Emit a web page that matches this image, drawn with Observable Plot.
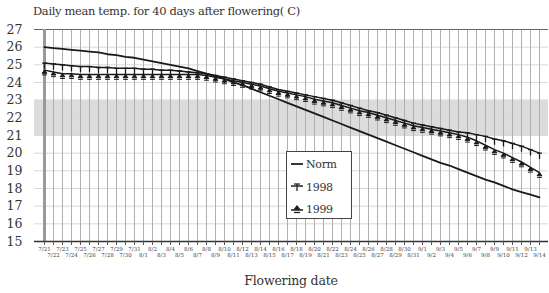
<!DOCTYPE html>
<html>
<head>
<meta charset="utf-8">
<script src="https://cdn.jsdelivr.net/npm/d3@7"></script>
<script src="https://cdn.jsdelivr.net/npm/@observablehq/plot@0.6"></script>
<style>
  html, body { margin: 0; padding: 0; background: #fff; }
  #wrap { position: relative; width: 549px; height: 293px; overflow: hidden; font-family: "DejaVu Serif", serif; color: #333; }
  #title { position: absolute; left: 33px; top: 4px; font-size: 11.5px; white-space: nowrap; letter-spacing: -0.35px; }
  #xlabel { position: absolute; left: 0; width: 582px; top: 273px; text-align: center; font-size: 12.5px; letter-spacing: -0.2px; }
  #legend { position: absolute; left: 286px; top: 151px; width: 64px; height: 66px; border: 1px solid #444; background: #fff; font-size: 11px; letter-spacing: -0.3px; }
  #legend .row { position: absolute; left: 3px; height: 14px; display: flex; align-items: center; }
  #legend svg { margin-right: 2px; }
</style>
</head>
<body>
<div id="wrap">
  <div id="chart"></div>
  <div id="title">Daily mean temp. for 40 days after flowering( C)</div>
  <div id="xlabel">Flowering date</div>
  <div id="legend">
    <div class="row" style="top:5px"><svg width="14" height="10"><line x1="1" y1="5" x2="13" y2="5" stroke="#222" stroke-width="1.8"/></svg><span>Norm</span></div>
    <div class="row" style="top:28px"><svg width="14" height="10"><line x1="1" y1="4" x2="13" y2="4" stroke="#222" stroke-width="1.5"/><line x1="4" y1="2" x2="10" y2="2" stroke="#222" stroke-width="1.3"/><line x1="7" y1="2" x2="7" y2="9" stroke="#222" stroke-width="1.3"/></svg><span>1998</span></div>
    <div class="row" style="top:50px"><svg width="14" height="10"><line x1="1" y1="6" x2="13" y2="6" stroke="#222" stroke-width="1.5"/><path d="M7,1 L11,6 L3,6 Z" fill="#222"/><line x1="4" y1="8.5" x2="10" y2="8.5" stroke="#222" stroke-width="1.3"/></svg><span>1999</span></div>
  </div>
</div>
<script>
// Flowering dates (x categories)
const dates = [
  "7/21","7/22","7/23","7/24","7/25","7/26","7/27","7/28","7/29","7/30","7/31",
  "8/1","8/2","8/3","8/4","8/5","8/6","8/7","8/8","8/9","8/10","8/11","8/12","8/13","8/14","8/15",
  "8/16","8/17","8/18","8/19","8/20","8/21","8/22","8/23","8/24","8/25","8/26","8/27","8/28","8/29","8/30","8/31",
  "9/1","9/2","9/3","9/4","9/5","9/6","9/7","9/8","9/9","9/10","9/11","9/12","9/13","9/14"
];

// Daily mean temperature for 40 days after flowering (°C)
const norm = [
  26.0, 25.95, 25.9, 25.85, 25.8, 25.75, 25.7, 25.6, 25.55, 25.45,
  25.4, 25.3, 25.2, 25.1, 25.0, 24.9, 24.8, 24.65, 24.5, 24.35,
  24.2, 24.0, 23.85, 23.65, 23.45, 23.25, 23.05, 22.85, 22.65, 22.45,
  22.25, 22.05, 21.85, 21.65, 21.45, 21.25, 21.05, 20.85, 20.65, 20.45,
  20.25, 20.05, 19.85, 19.65, 19.45, 19.3, 19.1, 18.9, 18.7, 18.5,
  18.35, 18.15, 17.95, 17.8, 17.65, 17.5
];
const y1998 = [
  25.1, 25.05, 25.0, 24.95, 24.9, 24.9, 24.85, 24.85, 24.8, 24.8,
  24.8, 24.75, 24.75, 24.7, 24.7, 24.65, 24.6, 24.55, 24.5, 24.4,
  24.3, 24.2, 24.1, 24.0, 23.9, 23.75, 23.6, 23.5, 23.4, 23.3,
  23.2, 23.1, 23.0, 22.85, 22.7, 22.55, 22.4, 22.3, 22.15, 22.0,
  21.85, 21.7, 21.6, 21.5, 21.4, 21.3, 21.2, 21.15, 21.05, 20.95,
  20.8, 20.7, 20.55, 20.4, 20.2, 20.0
];
const y1999 = [
  24.7, 24.6, 24.5, 24.5, 24.45, 24.45, 24.45, 24.45, 24.45, 24.45,
  24.45, 24.45, 24.45, 24.45, 24.45, 24.45, 24.45, 24.45, 24.4, 24.3,
  24.2, 24.1, 24.0, 23.9, 23.8, 23.65, 23.5, 23.4, 23.3, 23.2,
  23.05, 22.95, 22.85, 22.7, 22.55, 22.4, 22.3, 22.15, 22.0, 21.85,
  21.7, 21.55, 21.45, 21.35, 21.25, 21.15, 21.05, 20.9, 20.7, 20.45,
  20.2, 20.0, 19.75, 19.5, 19.2, 18.9
];

const yTicks = [15, 16, 17, 18, 19, 20, 21, 22, 23, 24, 25, 26, 27];
const bandRange = [21, 23];

const rows = dates.map((d, i) => ({date: d, norm: norm[i], y1998: y1998[i], y1999: y1999[i]}));
const evenDates = dates.filter((d, i) => i % 2 === 0);
const oddDates = dates.filter((d, i) => i % 2 === 1);

// custom marker shapes
const tSym = {draw(ctx, size) { const r = Math.sqrt(size) / 2; ctx.moveTo(-r, 0); ctx.lineTo(r, 0); ctx.moveTo(0, 0); ctx.lineTo(0, r * 2.4); }};
const triSym = {draw(ctx, size) { const r = Math.sqrt(size) / 2; ctx.moveTo(0, 0); ctx.lineTo(r, r * 1.3); ctx.lineTo(-r, r * 1.3); ctx.closePath(); ctx.moveTo(-r, r * 2); ctx.lineTo(r, r * 2); }};

const ink = "#1a1a1a";
const serif = "'DejaVu Serif', serif";

const chart = Plot.plot({
  width: 549,
  height: 293,
  marginTop: 29,
  marginBottom: 52,
  marginLeft: 34,
  marginRight: 1,
  style: {fontFamily: serif, color: "#333", background: "#fff"},
  x: {type: "point", domain: dates, padding: 0},
  y: {domain: [15, 27]},
  marks: [
    Plot.rect([bandRange], {y1: d => d[0], y2: d => d[1], fill: "#dcdcdc"}),
    Plot.gridY({ticks: yTicks, stroke: "#d8d8d8", strokeOpacity: 1}),
    Plot.gridX({stroke: "#b0b0b0", strokeOpacity: 1, strokeWidth: 1}),
    Plot.ruleY([27], {stroke: "#666", strokeWidth: 1}),
    Plot.ruleX([dates[0]], {stroke: "#999", strokeWidth: 3}),
    Plot.ruleY([15], {stroke: "#333", strokeWidth: 1.6}),
    Plot.axisY({ticks: yTicks, tickSize: 0, tickPadding: 12, fontSize: 12.5, label: null, fill: "#333"}),
    Plot.axisX({ticks: evenDates, tickSize: 4, tickPadding: 2, fontSize: 5.5, label: null, fill: "#444", stroke: "#555"}),
    Plot.axisX({ticks: oddDates, tickSize: 4, tickPadding: 8, fontSize: 5.5, label: null, fill: "#444", stroke: "#555"}),
    Plot.line(rows, {x: "date", y: "norm", stroke: ink, strokeWidth: 1.8}),
    Plot.line(rows, {x: "date", y: "y1998", stroke: ink, strokeWidth: 1.5}),
    Plot.dot(rows, {x: "date", y: "y1998", symbol: tSym, r: 2.7, stroke: ink, fill: "none", strokeWidth: 1.3}),
    Plot.line(rows, {x: "date", y: "y1999", stroke: ink, strokeWidth: 1.5}),
    Plot.dot(rows, {x: "date", y: "y1999", symbol: triSym, r: 2.7, stroke: ink, fill: ink, strokeWidth: 1})
  ]
});
document.getElementById("chart").appendChild(chart);
</script>
</body>
</html>
